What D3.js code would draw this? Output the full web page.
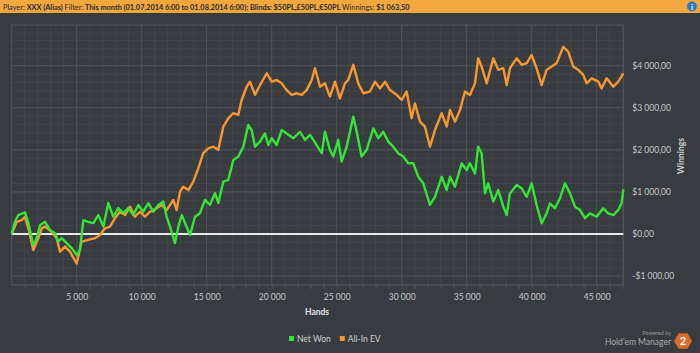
<!DOCTYPE html>
<html>
<head>
<meta charset="utf-8">
<script src="https://cdn.jsdelivr.net/npm/d3@7"></script>
<style>
  html, body { margin: 0; padding: 0; background: #383b3f; }
  svg { display: block; font-family: Lato, "Open Sans", sans-serif; }
</style>
</head>
<body>
<div id="chart"></div>
<script>
// hands played at each sampled point, and winnings in $
var netHands = [0, 250, 510, 1020, 1280, 1660, 1920, 2180, 2560, 2950, 3330, 3590, 3850, 4230, 4620, 5000, 5250, 5510, 5890, 6280, 6660, 7050, 7430, 7820, 8200, 8590, 8970, 9350, 9740, 10120, 10510, 10890, 11280, 11660, 11920, 12180, 12560, 12820, 13080, 13330, 13720, 14100, 14480, 14870, 15250, 15640, 15900, 16280, 16660, 17050, 17430, 17820, 18200, 18460, 18720, 19100, 19480, 19740, 20000, 20380, 20770, 21150, 21660, 22180, 22560, 22950, 23460, 23850, 24100, 24480, 24740, 25120, 25380, 25770, 26280, 26540, 26920, 27310, 27820, 28200, 28580, 28970, 29350, 29740, 30120, 30510, 30890, 31280, 31660, 32180, 32560, 33080, 33460, 33720, 34100, 34620, 35000, 35250, 35640, 35890, 36150, 36410, 36660, 37050, 37430, 37820, 38080, 38330, 38850, 39230, 39620, 40000, 40380, 40770, 41150, 41410, 41790, 42180, 42560, 42950, 43330, 43720, 44100, 44480, 45000, 45510, 45890, 46280, 46660, 46920, 47050];
var netWon = [0, 290, 450, 515, 260, -260, -100, 210, 290, 95, 20, -180, -100, -215, -335, -500, -380, 330, 290, 260, 450, 175, 735, 410, 615, 495, 615, 450, 690, 530, 735, 530, 690, 770, 410, 175, -215, 175, 450, 260, -25, 410, 495, 810, 690, 970, 735, 1245, 1285, 1760, 1840, 2075, 2590, 2470, 2075, 2195, 2390, 2115, 2275, 2115, 2470, 2390, 2275, 2430, 2235, 2355, 2115, 1920, 2430, 2000, 1840, 2235, 1720, 2075, 2790, 2430, 1840, 2000, 2510, 2275, 2430, 2195, 2075, 1920, 1840, 1680, 1680, 1360, 1205, 690, 885, 1360, 1045, 1360, 1125, 1680, 1520, 1680, 1440, 2075, 1920, 965, 1205, 770, 1045, 650, 450, 965, 1165, 1085, 885, 1205, 690, 255, 490, 730, 610, 850, 1205, 965, 650, 570, 375, 490, 410, 610, 490, 450, 570, 730, 1063.5];

var evHands = [0, 380, 770, 1020, 1280, 1660, 2050, 2310, 2560, 3080, 3460, 3720, 4100, 4480, 5000, 5380, 5890, 6410, 6790, 7180, 7560, 7950, 8330, 8720, 9100, 9480, 9870, 10250, 10640, 11150, 11540, 11920, 12180, 12430, 12690, 12950, 13200, 13590, 13970, 14350, 14740, 15120, 15510, 15890, 16280, 16660, 17050, 17430, 17690, 18080, 18330, 18720, 19100, 19620, 20000, 20380, 20770, 21150, 21540, 21920, 22310, 22690, 23080, 23330, 23720, 24100, 24480, 24870, 25250, 25640, 25890, 26280, 26660, 27050, 27560, 27950, 28330, 28720, 29100, 29620, 30000, 30380, 30770, 31020, 31410, 31790, 32180, 32560, 33080, 33460, 33720, 34100, 34490, 34870, 35250, 35640, 35890, 36150, 36540, 37050, 37430, 37820, 38080, 38330, 38850, 39230, 39620, 40000, 40380, 40770, 41150, 41540, 41920, 42430, 42820, 43200, 43590, 43970, 44230, 44620, 45130, 45380, 45770, 46280, 46660, 47050];
var allInEV = [0, 290, 330, 410, 135, -380, -100, 135, 175, 55, -100, -420, -300, -420, -700, -180, -140, -100, -25, 135, 175, 375, 530, 450, 650, 410, 530, 410, 530, 610, 690, 570, 690, 810, 570, 1005, 1125, 1045, 1245, 1560, 1920, 2035, 2075, 2000, 2550, 2750, 2870, 2830, 3185, 3500, 3620, 3305, 3540, 3820, 3620, 3660, 3580, 3420, 3305, 3345, 3305, 3420, 3660, 3940, 3500, 3580, 3265, 3620, 3225, 3580, 3660, 4020, 3580, 3345, 3385, 3620, 3460, 3620, 3420, 3305, 3185, 3385, 2750, 3105, 2670, 2550, 2075, 2470, 2870, 2550, 2950, 2670, 2950, 3385, 3305, 3580, 4175, 3980, 3580, 4175, 3900, 3940, 3540, 3940, 4175, 4020, 4060, 4255, 3940, 3540, 3900, 3980, 4060, 4450, 4330, 3980, 3900, 3780, 3580, 3700, 3620, 3460, 3700, 3500, 3620, 3820];

var xTicks = [5000, 10000, 15000, 20000, 25000, 30000, 35000, 40000, 45000];
var yTicks = [-1000, 0, 1000, 2000, 3000, 4000];
var seriesNames = ["Net Won", "All-In EV"];
var seriesColors = ["#35e535", "#f6982f"];

var W = 700, H = 353;
var plot = {left: 11.7, right: 623.3, top: 25, bottom: 285};

var svg = d3.select("#chart").append("svg")
    .attr("width", W)
    .attr("height", H);

svg.append("rect").attr("width", W).attr("height", H).attr("fill", "#383b3f");

// header bar
svg.append("rect").attr("width", W).attr("height", 13).attr("fill", "#f2a73f");
var head = svg.append("text")
    .attr("x", 3).attr("y", 9.5)
    .attr("font-size", 7.35)
    .attr("fill", "#2a2a2a");
[["Player: ", 400], ["XXX (Alias)  ", 700], ["Filter: ", 400],
 ["This month (01.07.2014 6:00 to 01.08.2014 6:00); ", 700],
 ["Blinds: ", 700], ["$50PL,£50PL,€50PL  ", 700], ["Winnings: ", 400], ["$1 063,50", 700]]
  .forEach(function(p) { head.append("tspan").attr("font-weight", p[1]).text(p[0]); });
svg.append("circle").attr("cx", 692).attr("cy", 6.5).attr("r", 5).attr("fill", "#2f79c8");
svg.append("text").attr("x", 692).attr("y", 9.5).attr("text-anchor", "middle")
    .attr("font-size", 8).attr("font-weight", 700).attr("fill", "#fff").text("i");

var x = d3.scaleLinear().domain([0, 47050]).range([plot.left, plot.right]);
var y = d3.scaleLinear().domain([-1212, 4967]).range([plot.bottom, plot.top]);

var g = svg.append("g");

// minor grid
g.selectAll(".vmin").data(d3.range(1000, 47001, 1000)).enter().append("line")
    .attr("x1", function(d) { return x(d); }).attr("x2", function(d) { return x(d); })
    .attr("y1", plot.top).attr("y2", plot.bottom)
    .attr("stroke", "#42454a").attr("stroke-width", 1);
g.selectAll(".hmin").data(d3.range(-1200, 4967, 200)).enter().append("line")
    .attr("x1", plot.left).attr("x2", plot.right)
    .attr("y1", function(d) { return y(d); }).attr("y2", function(d) { return y(d); })
    .attr("stroke", "#42454a").attr("stroke-width", 1);

// major grid
g.selectAll(".vmaj").data(xTicks).enter().append("line")
    .attr("x1", function(d) { return x(d); }).attr("x2", function(d) { return x(d); })
    .attr("y1", plot.top).attr("y2", plot.bottom)
    .attr("stroke", "#505358").attr("stroke-width", 1);
g.selectAll(".hmaj").data(yTicks).enter().append("line")
    .attr("x1", plot.left).attr("x2", plot.right)
    .attr("y1", function(d) { return y(d); }).attr("y2", function(d) { return y(d); })
    .attr("stroke", "#505358").attr("stroke-width", 1);

g.append("rect")
    .attr("x", plot.left).attr("y", plot.top)
    .attr("width", plot.right - plot.left).attr("height", plot.bottom - plot.top)
    .attr("fill", "none").attr("stroke", "#55585d");

// x axis
var fmtHands = function(d) { return d3.format(",")(d).replace(/,/g, " "); };
var xAxis = svg.append("g")
    .attr("transform", "translate(0," + plot.bottom + ")")
    .call(d3.axisBottom(x).tickValues(d3.range(1000, 47001, 1000))
      .tickSize(4).tickFormat(function(d) { return xTicks.indexOf(d) >= 0 ? fmtHands(d) : ""; }));
xAxis.select(".domain").remove();
xAxis.selectAll(".tick line").attr("stroke", "#505358");
xAxis.selectAll(".tick text").attr("fill", "#c9c9c9").attr("font-size", 8.5)
    .attr("font-family", "Lato").attr("y", 9);

// y axis on the right
var fmtMoney = function(d) {
  var s = d3.format(",.2f")(Math.abs(d)).replace(/,/g, " ").replace(".", ",");
  return (d < 0 ? "-$" : "$") + s;
};
var yAxis = svg.append("g")
    .attr("transform", "translate(" + plot.right + ",0)")
    .call(d3.axisRight(y).tickValues(yTicks).tickSize(0).tickPadding(9).tickFormat(fmtMoney));
yAxis.select(".domain").remove();
yAxis.selectAll(".tick text").attr("fill", "#c9c9c9").attr("font-size", 8.5)
    .attr("font-family", "Lato");

svg.append("text")
    .attr("transform", "translate(684,156) rotate(-90)")
    .attr("text-anchor", "middle")
    .attr("font-size", 8.5).attr("font-weight", 700).attr("fill", "#cfcfcf")
    .text("Winnings");

svg.append("text")
    .attr("x", 317).attr("y", 315)
    .attr("text-anchor", "middle")
    .attr("font-size", 8.5).attr("font-weight", 700).attr("fill", "#e2e2e2")
    .text("Hands");

// zero line
g.append("line")
    .attr("x1", plot.left).attr("x2", plot.right)
    .attr("y1", y(0)).attr("y2", y(0))
    .attr("stroke", "#e9e9e9").attr("stroke-width", 2);

// series
var series = [
  {name: seriesNames[0], color: seriesColors[0], pts: d3.zip(netHands, netWon)},
  {name: seriesNames[1], color: seriesColors[1], pts: d3.zip(evHands, allInEV)}
];
var line = d3.line()
    .x(function(d) { return x(d[0]); })
    .y(function(d) { return y(d[1]); });

// draw EV first so Net Won sits on top
[series[1], series[0]].forEach(function(s) {
  g.append("path")
      .datum(s.pts)
      .attr("d", line)
      .attr("fill", "none")
      .attr("stroke", s.color)
      .attr("stroke-width", 2.4)
      .attr("stroke-linejoin", "round");
});

// legend
var leg = svg.append("g").attr("transform", "translate(289,341)");
var lx = 0;
series.forEach(function(s) {
  leg.append("rect").attr("x", lx).attr("y", -5).attr("width", 5).attr("height", 5).attr("fill", s.color);
  var t = leg.append("text").attr("x", lx + 8).attr("y", 0.5)
      .attr("font-size", 8.5).attr("fill", "#cfcfcf").text(s.name);
  lx += 8 + t.node().getComputedTextLength() + 9;
});

// branding
svg.append("text").attr("x", 671).attr("y", 335).attr("text-anchor", "end")
    .attr("font-size", 5.5).attr("fill", "#9a9a9a").text("Powered by");
svg.append("text").attr("x", 671).attr("y", 345).attr("text-anchor", "end")
    .attr("font-size", 8.5).attr("fill", "#a9a9a9").text("Hold'em Manager");
var hex = d3.range(6).map(function(i) {
  var a = Math.PI / 3 * i;
  return [683 + 9 * Math.cos(a), 341 + 9 * Math.sin(a)];
});
svg.append("polygon").attr("points", hex.map(function(p) { return p.join(","); }).join(" "))
    .attr("fill", "#dc6a28");
svg.append("text").attr("x", 683).attr("y", 345).attr("text-anchor", "middle")
    .attr("font-size", 11).attr("font-weight", 700).attr("fill", "#fff").text("2");
</script>
</body>
</html>
